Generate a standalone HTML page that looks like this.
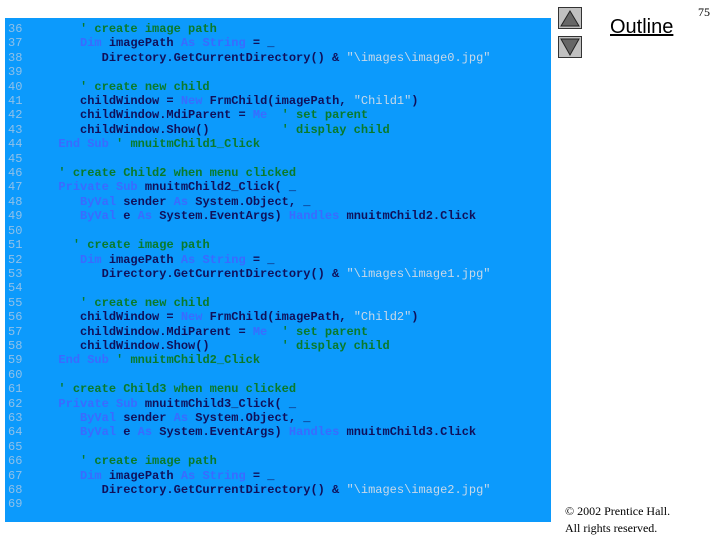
<!DOCTYPE html>
<html><head><style>
body{margin:0;width:720px;height:540px;background:#fff;position:relative;overflow:hidden;font-family:"Liberation Serif",serif}
#p{position:absolute;left:5px;top:18px;width:546px;height:504px;background:#0c9afc}
pre{position:absolute;left:3px;top:4px;margin:0;font:bold 12px/14.4px "Liberation Mono",monospace;color:#10105a;white-space:pre}
.n{color:#8fc0e8;font-weight:normal}
.k{color:#3a6bff}
.c{color:#0a7a2a}
.s{color:#c8d8e8;font-weight:normal}
.btn{position:absolute;left:558px;width:24px;height:22px;background:#c0c0c0;border:1px solid #333;box-sizing:border-box}
</style></head><body>
<div id="p"><pre><span class="n">36</span>        <span class="c">' create image path</span>
<span class="n">37</span>        <span class="k">Dim</span> imagePath <span class="k">As String</span> = _
<span class="n">38</span>           Directory.GetCurrentDirectory() &amp; <span class="s">"\images\image0.jpg"</span>
<span class="n">39</span>
<span class="n">40</span>        <span class="c">' create new child</span>
<span class="n">41</span>        childWindow = <span class="k">New</span> FrmChild(imagePath, <span class="s">"Child1"</span>)
<span class="n">42</span>        childWindow.MdiParent = <span class="k">Me</span>  <span class="c">' set parent</span>
<span class="n">43</span>        childWindow.Show()          <span class="c">' display child</span>
<span class="n">44</span>     <span class="k">End Sub</span> <span class="c">' mnuitmChild1_Click</span>
<span class="n">45</span>
<span class="n">46</span>     <span class="c">' create Child2 when menu clicked</span>
<span class="n">47</span>     <span class="k">Private Sub</span> mnuitmChild2_Click( _
<span class="n">48</span>        <span class="k">ByVal</span> sender <span class="k">As</span> System.Object, _
<span class="n">49</span>        <span class="k">ByVal</span> e <span class="k">As</span> System.EventArgs) <span class="k">Handles</span> mnuitmChild2.Click
<span class="n">50</span>
<span class="n">51</span>       <span class="c">' create image path</span>
<span class="n">52</span>        <span class="k">Dim</span> imagePath <span class="k">As String</span> = _
<span class="n">53</span>           Directory.GetCurrentDirectory() &amp; <span class="s">"\images\image1.jpg"</span>
<span class="n">54</span>
<span class="n">55</span>        <span class="c">' create new child</span>
<span class="n">56</span>        childWindow = <span class="k">New</span> FrmChild(imagePath, <span class="s">"Child2"</span>)
<span class="n">57</span>        childWindow.MdiParent = <span class="k">Me</span>  <span class="c">' set parent</span>
<span class="n">58</span>        childWindow.Show()          <span class="c">' display child</span>
<span class="n">59</span>     <span class="k">End Sub</span> <span class="c">' mnuitmChild2_Click</span>
<span class="n">60</span>
<span class="n">61</span>     <span class="c">' create Child3 when menu clicked</span>
<span class="n">62</span>     <span class="k">Private Sub</span> mnuitmChild3_Click( _
<span class="n">63</span>        <span class="k">ByVal</span> sender <span class="k">As</span> System.Object, _
<span class="n">64</span>        <span class="k">ByVal</span> e <span class="k">As</span> System.EventArgs) <span class="k">Handles</span> mnuitmChild3.Click
<span class="n">65</span>
<span class="n">66</span>        <span class="c">' create image path</span>
<span class="n">67</span>        <span class="k">Dim</span> imagePath <span class="k">As String</span> = _
<span class="n">68</span>           Directory.GetCurrentDirectory() &amp; <span class="s">"\images\image2.jpg"</span>
<span class="n">69</span></pre></div>
<div class="btn" style="top:7px"><svg width="22" height="20"><polygon points="11,3 20,18 2,18" fill="#666" stroke="#222" stroke-width="1"/></svg></div>
<div class="btn" style="top:36px"><svg width="22" height="20"><polygon points="2,2 20,2 11,18" fill="#666" stroke="#222" stroke-width="1"/></svg></div>
<div style="position:absolute;left:610px;top:16px;font:20px 'Liberation Sans',sans-serif;text-decoration:underline">Outline</div>
<div style="position:absolute;left:698px;top:5px;font:12px 'Liberation Serif',serif">75</div>
<div style="position:absolute;left:565px;top:503px;font:12px/17px 'Liberation Serif',serif">© 2002 Prentice Hall.<br>All rights reserved.</div>
</body></html>
